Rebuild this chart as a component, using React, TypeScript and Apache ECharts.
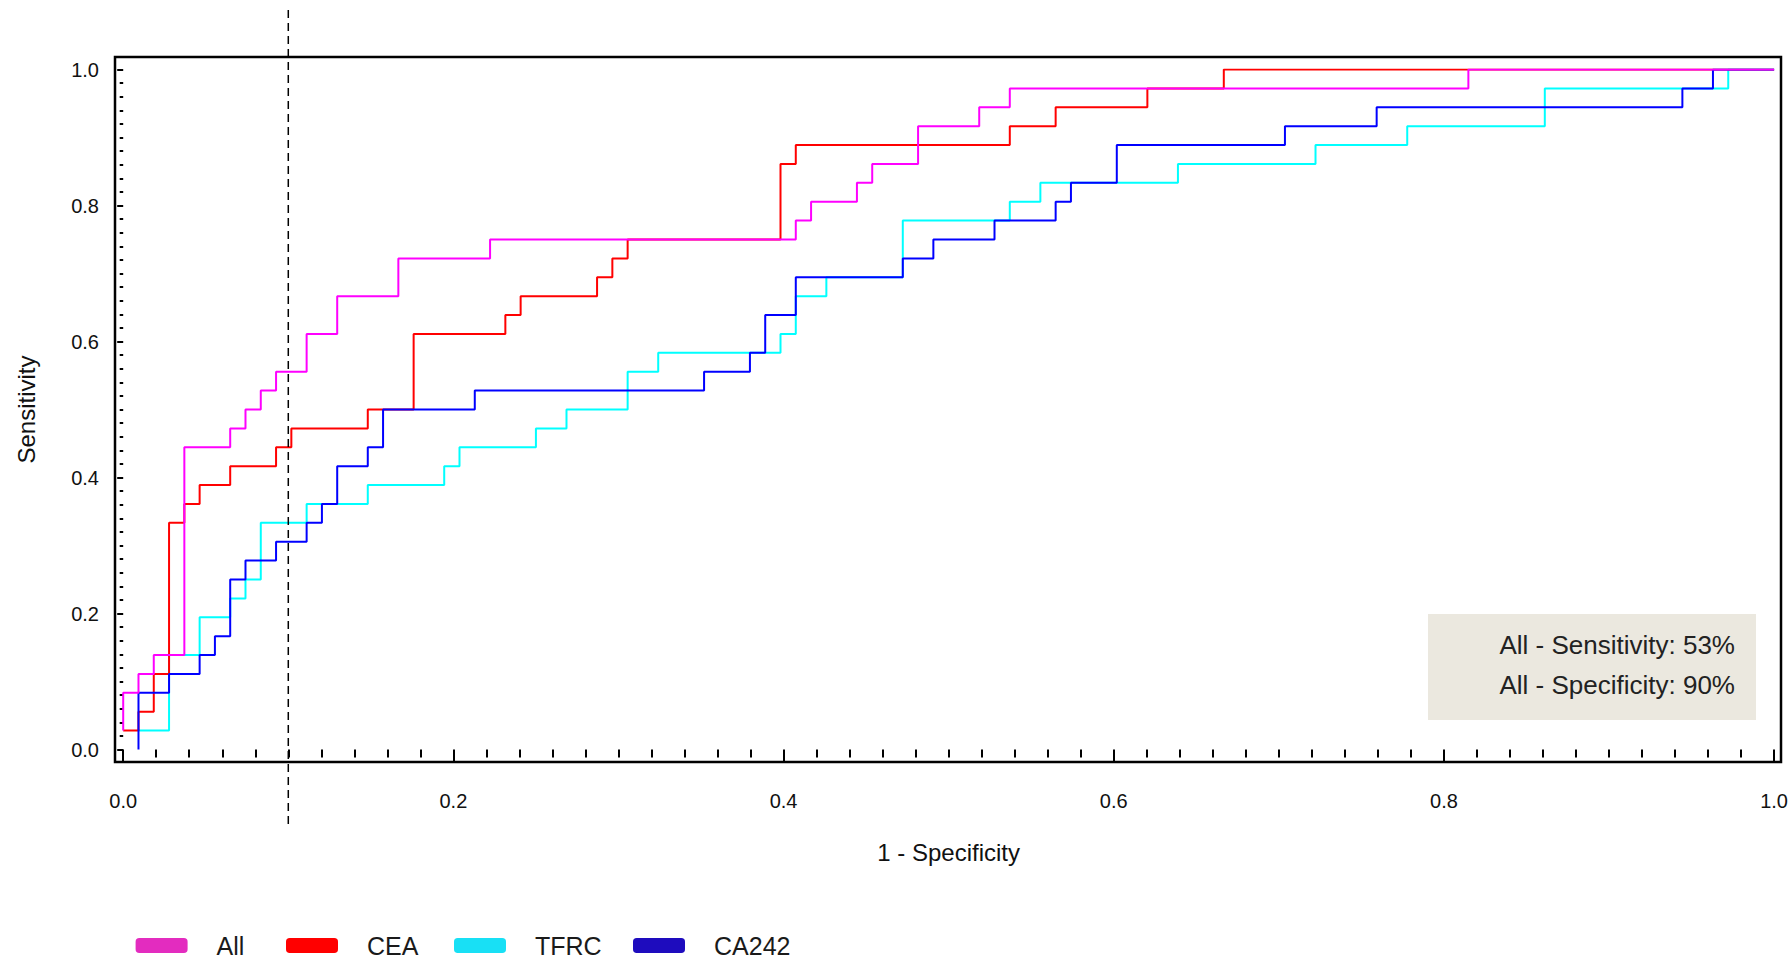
import React, { useEffect, useRef } from "react";
import * as echarts from "echarts";

// ROC curves: vertices as [false-positive count, true-positive count]
const NEGATIVES = 108;
const POSITIVES = 36;

const seriesNames = ["All", "CEA", "TFRC", "CA242"];
const lineColors = ["#ff00ff", "#ff0000", "#00ffff", "#0000ff"];
const legendColors = ["#e32cbf", "#ff0000", "#18e0f5", "#1e0cbe"];

const allCounts = [
  [0, 1], [0, 3], [1, 3], [1, 4], [2, 4], [2, 5], [4, 5], [4, 16], [7, 16], [7, 17],
  [8, 17], [8, 18], [9, 18], [9, 19], [10, 19], [10, 20], [12, 20], [12, 22], [14, 22],
  [14, 24], [18, 24], [18, 26], [24, 26], [24, 27], [44, 27], [44, 28], [45, 28], [45, 29],
  [48, 29], [48, 30], [49, 30], [49, 31], [52, 31], [52, 33], [56, 33], [56, 34], [58, 34],
  [58, 35], [88, 35], [88, 36], [108, 36],
];

const ceaCounts = [
  [0, 1], [1, 1], [1, 2], [2, 2], [2, 4], [3, 4], [3, 12], [4, 12], [4, 13], [5, 13],
  [5, 14], [7, 14], [7, 15], [10, 15], [10, 16], [11, 16], [11, 17], [16, 17], [16, 18],
  [19, 18], [19, 22], [25, 22], [25, 23], [26, 23], [26, 24], [31, 24], [31, 25], [32, 25],
  [32, 26], [33, 26], [33, 27], [43, 27], [43, 31], [44, 31], [44, 32], [58, 32], [58, 33],
  [61, 33], [61, 34], [67, 34], [67, 35], [72, 35], [72, 36], [108, 36],
];

const tfrcCounts = [
  [1, 1], [3, 1], [3, 5], [5, 5], [5, 7], [7, 7], [7, 8], [8, 8], [8, 9], [9, 9], [9, 12],
  [12, 12], [12, 13], [16, 13], [16, 14], [21, 14], [21, 15], [22, 15], [22, 16], [27, 16],
  [27, 17], [29, 17], [29, 18], [33, 18], [33, 20], [35, 20], [35, 21], [43, 21], [43, 22],
  [44, 22], [44, 24], [46, 24], [46, 25], [51, 25], [51, 28], [58, 28], [58, 29], [60, 29],
  [60, 30], [69, 30], [69, 31], [78, 31], [78, 32], [84, 32], [84, 33], [93, 33], [93, 35],
  [105, 35], [105, 36], [108, 36],
];

const ca242Counts = [
  [1, 0], [1, 3], [3, 3], [3, 4], [5, 4], [5, 5], [6, 5], [6, 6], [7, 6], [7, 9], [8, 9],
  [8, 10], [10, 10], [10, 11], [12, 11], [12, 12], [13, 12], [13, 13], [14, 13], [14, 15],
  [16, 15], [16, 16], [17, 16], [17, 18], [23, 18], [23, 19], [38, 19], [38, 20], [41, 20],
  [41, 21], [42, 21], [42, 23], [44, 23], [44, 25], [51, 25], [51, 26], [53, 26], [53, 27],
  [57, 27], [57, 28], [61, 28], [61, 29], [62, 29], [62, 30], [65, 30], [65, 32], [76, 32],
  [76, 33], [82, 33], [82, 34], [102, 34], [102, 35], [104, 35], [104, 36], [108, 36],
];

const cutoffLine = [
  [0.1, 1.0875],
  [0.1, -0.114],
];

const xTicks = [0, 0.2, 0.4, 0.6, 0.8, 1.0];
const yTicks = [0, 0.2, 0.4, 0.6, 0.8, 1.0];
const annotationLines = ["All - Sensitivity: 53%", "All - Specificity: 90%"];

const toRates = (pts: number[][]) => pts.map(([fp, tp]) => [fp / NEGATIVES, tp / POSITIVES]);

export default function App() {
  const ref = useRef<HTMLDivElement>(null);

  useEffect(() => {
    if (!ref.current) return;
    const chart = echarts.init(ref.current, undefined, { renderer: "svg" });
    const font = "'Liberation Sans', Arial, sans-serif";
    const counts = [allCounts, ceaCounts, tfrcCounts, ca242Counts];
    const drawOrder = [2, 1, 3, 0];

    const lineSeries = drawOrder.map((idx) => ({
      name: seriesNames[idx],
      type: "line",
      data: toRates(counts[idx]),
      symbol: "none",
      showSymbol: false,
      color: lineColors[idx],
      lineStyle: { color: lineColors[idx], width: 2 },
      emphasis: { disabled: true },
      silent: true,
      z: 3,
    }));

    const legendLefts = [135.6, 286, 454, 633];
    const legends = seriesNames.map((n, i) => ({
      show: true,
      left: legendLefts[i],
      top: 933,
      padding: 0,
      icon: "roundRect",
      itemWidth: 52,
      itemHeight: 15,
      selectedMode: false,
      data: [{ name: n, itemStyle: { color: legendColors[i], borderWidth: 0 } }],
      textStyle: {
        fontSize: 25,
        lineHeight: 25,
        color: "#1a1a1a",
        fontFamily: font,
        padding: [0, 0, 0, 24],
      },
    }));

    chart.setOption({
      animation: false,
      backgroundColor: "#ffffff",
      grid: { left: 123.2, right: 16.8, top: 69.5, bottom: 210.5, containLabel: false },
      legend: legends,
      xAxis: {
        type: "value",
        min: xTicks[0],
        max: xTicks[xTicks.length - 1],
        interval: 0.2,
        offset: 12.8,
        name: "1 - Specificity",
        nameLocation: "middle",
        nameGap: 78,
        nameTextStyle: { fontSize: 24, color: "#111", fontFamily: font },
        axisLine: { show: false },
        axisTick: { show: true, length: 13, lineStyle: { color: "#000", width: 2 } },
        minorTick: { show: true, splitNumber: 10, length: 8, lineStyle: { color: "#000", width: 2 } },
        splitLine: { show: false },
        minorSplitLine: { show: false },
        axisLabel: {
          margin: 29,
          fontSize: 20,
          color: "#111",
          fontFamily: font,
          formatter: (v: number) => v.toFixed(1),
        },
      },
      yAxis: {
        type: "value",
        min: yTicks[0],
        max: yTicks[yTicks.length - 1],
        interval: 0.2,
        offset: 8.2,
        name: "Sensitivity",
        nameLocation: "middle",
        nameGap: 77,
        nameTextStyle: { fontSize: 24, color: "#111", fontFamily: font },
        axisLine: { show: false },
        axisTick: { show: true, length: 6, lineStyle: { color: "#000", width: 2 } },
        minorTick: { show: true, splitNumber: 10, length: 3.5, lineStyle: { color: "#000", width: 2 } },
        splitLine: { show: false },
        minorSplitLine: { show: false },
        axisLabel: {
          margin: 16,
          fontSize: 20,
          color: "#111",
          fontFamily: font,
          formatter: (v: number) => v.toFixed(1),
        },
      },
      series: [
        ...lineSeries,
        {
          name: "cutoff",
          type: "line",
          data: cutoffLine,
          symbol: "none",
          clip: false,
          silent: true,
          lineStyle: { color: "#000", width: 1.5, type: [8, 5] },
          z: 4,
        },
      ],
      graphic: [
        {
          type: "rect",
          shape: { x: 115, y: 57, width: 1666, height: 705 },
          style: { fill: "none", stroke: "#000", lineWidth: 2.5 },
          silent: true,
          z: 10,
        },
        {
          type: "rect",
          shape: { x: 1428, y: 614, width: 328, height: 106 },
          style: { fill: "#ebe8df" },
          silent: true,
          z: 5,
        },
        ...annotationLines.map((t, i) => ({
          type: "text",
          x: 1735,
          y: 645 + i * 40,
          style: {
            text: t,
            fontSize: 26,
            fontFamily: font,
            fill: "#222",
            align: "right",
            verticalAlign: "middle",
          },
          silent: true,
          z: 6,
        })),
      ],
    });

    return () => chart.dispose();
  }, []);

  return (
    <div
      ref={ref}
      style={{ position: "absolute", left: 0, top: 0, width: 1791, height: 960 }}
    />
  );
}
